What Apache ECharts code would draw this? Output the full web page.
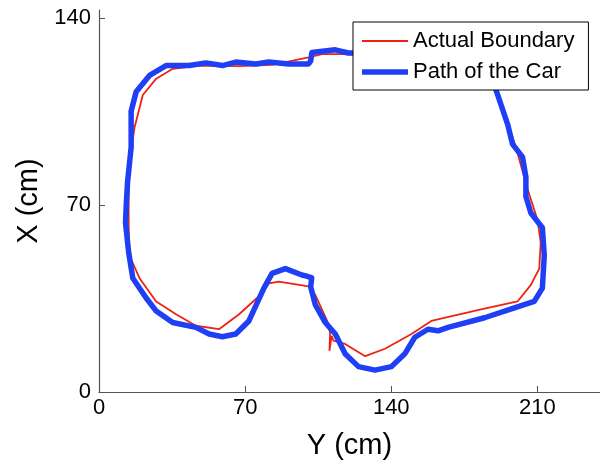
<!DOCTYPE html>
<html>
<head>
<meta charset="utf-8">
<script src="https://cdn.jsdelivr.net/npm/echarts@6/dist/echarts.min.js"></script>
<style>
html,body{margin:0;padding:0;background:#fff;}
#chart{width:600px;height:465px;}
</style>
</head>
<body>
<div id="chart"></div>
<script>
// Tick labels
const xTicks = [0, 70, 140, 210];
const yTicks = [0, 70, 140];

// Series names
const seriesNames = ['Actual Boundary', 'Path of the Car'];

// Actual Boundary: [Y (cm), X (cm)]
const actualBoundary = [
  [14.6, 51.1], [14.2, 62.1], [14.2, 73.2], [14.6, 84.2], [15.6, 91.6], [17.0, 98.9],
  [21.0, 111.2], [27.4, 117.3], [35.3, 121.0], [48.0, 122.2], [67.1, 122.0], [82.9, 122.5],
  [100.4, 125.3], [106.8, 126.5], [116.3, 126.5], [143.3, 125.8], [171.9, 123.9], [186.2, 119.2],
  [189.6, 113.8], [195.8, 100.8], [199.7, 91.6], [205.4, 75.7], [210.0, 64.6], [211.6, 56.0],
  [210.9, 46.2], [206.9, 40.1], [200.5, 33.9], [183.0, 30.9], [159.2, 26.6], [149.7, 21.7],
  [137.0, 16.2], [127.5, 13.4], [117.9, 18.0], [112.3, 19.2], [111.4, 21.0], [110.4, 15.4],
  [110.7, 21.7], [110.0, 25.4], [103.6, 36.4], [100.4, 39.5], [86.1, 41.3], [81.4, 40.7],
  [77.4, 36.4], [67.1, 29.1], [57.5, 23.5], [46.4, 24.8], [36.9, 29.1], [27.4, 33.9],
  [19.4, 42.6], [14.6, 51.1]
];

// Path of the Car: [Y (cm), X (cm)]
const carPath = [
  [14.2, 52.3], [12.7, 63.4], [13.1, 70.7], [13.7, 78.7], [15.4, 91.6], [15.4, 105.1],
  [17.8, 112.4], [24.2, 118.5], [32.1, 122.2], [43.2, 122.2], [51.2, 123.2], [59.1, 122.2],
  [65.5, 123.5], [75.0, 122.8], [81.4, 123.5], [90.9, 122.8], [100.4, 122.8], [101.4, 123.9],
  [102.0, 127.1], [113.2, 128.1], [119.5, 126.9], [143.3, 126.9], [171.9, 125.4], [186.2, 119.5],
  [189.4, 114.9], [195.8, 100.1], [198.1, 92.8], [202.9, 87.9], [204.5, 80.5], [204.5, 73.2],
  [206.9, 67.0], [212.4, 61.5], [213.3, 51.1], [212.4, 38.9], [208.5, 33.9], [199.0, 31.5],
  [184.7, 27.8], [167.2, 24.2], [162.4, 22.9], [157.6, 23.5], [151.3, 20.5], [146.5, 14.3],
  [140.1, 9.5], [132.2, 8.2], [124.3, 9.5], [117.9, 14.3], [113.2, 21.7], [108.4, 26.0],
  [103.6, 32.7], [101.4, 39.4], [101.9, 42.7], [99.5, 43.4], [97.2, 43.8], [89.3, 46.2],
  [82.9, 44.4], [79.0, 38.9], [71.8, 26.6], [65.5, 21.7], [59.1, 20.7], [52.8, 21.7],
  [46.4, 24.2], [35.3, 26.0], [27.4, 30.3], [22.6, 35.2], [16.2, 42.6], [14.2, 52.3]
];

const FONT = "'Liberation Sans', Arial, sans-serif";
const RED = '#ee2211';
const BLUE = '#1f3ff5';
const chart = echarts.init(document.getElementById('chart'), null, {renderer: 'canvas'});

const axisCommon = {
  type: 'value',
  nameLocation: 'middle',
  nameTextStyle: {fontFamily: FONT, fontSize: 29, color: '#000'},
  axisLine: {show: true, lineStyle: {color: '#555', width: 1.2}},
  splitLine: {show: false},
};

chart.setOption({
  animation: false,
  backgroundColor: '#fff',
  grid: {left: 99, top: 10, width: 503, height: 389, containLabel: false},
  legend: {
    orient: 'vertical',
    left: 353, top: 22,
    backgroundColor: '#fff',
    borderColor: '#000', borderWidth: 1,
    padding: [8, 14, 7, 9],
    itemGap: 9,
    itemWidth: 46, itemHeight: 14,
    textStyle: {fontFamily: FONT, fontSize: 22, color: '#000'},
    data: [
      {name: seriesNames[0], icon: 'path://M0,0H46V2H0Z', itemStyle: {color: RED}},
      {name: seriesNames[1], icon: 'path://M0,0H46V5.5H0Z', itemStyle: {color: BLUE}}
    ]
  },
  xAxis: Object.assign({}, axisCommon, {
    name: 'Y (cm)', nameGap: 39,
    min: 0, max: 240,
    axisTick: {show: true, inside: true, length: 6, customValues: xTicks, lineStyle: {color: '#555'}},
    axisLabel: {customValues: xTicks, fontFamily: FONT, fontSize: 22, color: '#000', margin: 5}
  }),
  yAxis: Object.assign({}, axisCommon, {
    name: 'X (cm)', nameGap: 55,
    min: 0, max: 143,
    axisTick: {show: true, inside: true, length: 6, customValues: yTicks, lineStyle: {color: '#555'}},
    axisLabel: {customValues: yTicks, fontFamily: FONT, fontSize: 22, color: '#000', margin: 8}
  }),
  series: [
    {
      name: seriesNames[0], type: 'line', data: actualBoundary,
      showSymbol: false, symbol: 'none', smooth: false, z: 2,
      lineStyle: {color: RED, width: 1.8},
      itemStyle: {color: RED}
    },
    {
      name: seriesNames[1], type: 'line', data: carPath,
      showSymbol: false, symbol: 'none', smooth: false, z: 3,
      lineStyle: {color: BLUE, width: 5.5, join: 'round', cap: 'round'},
      itemStyle: {color: BLUE}
    }
  ]
});
</script>
</body>
</html>
